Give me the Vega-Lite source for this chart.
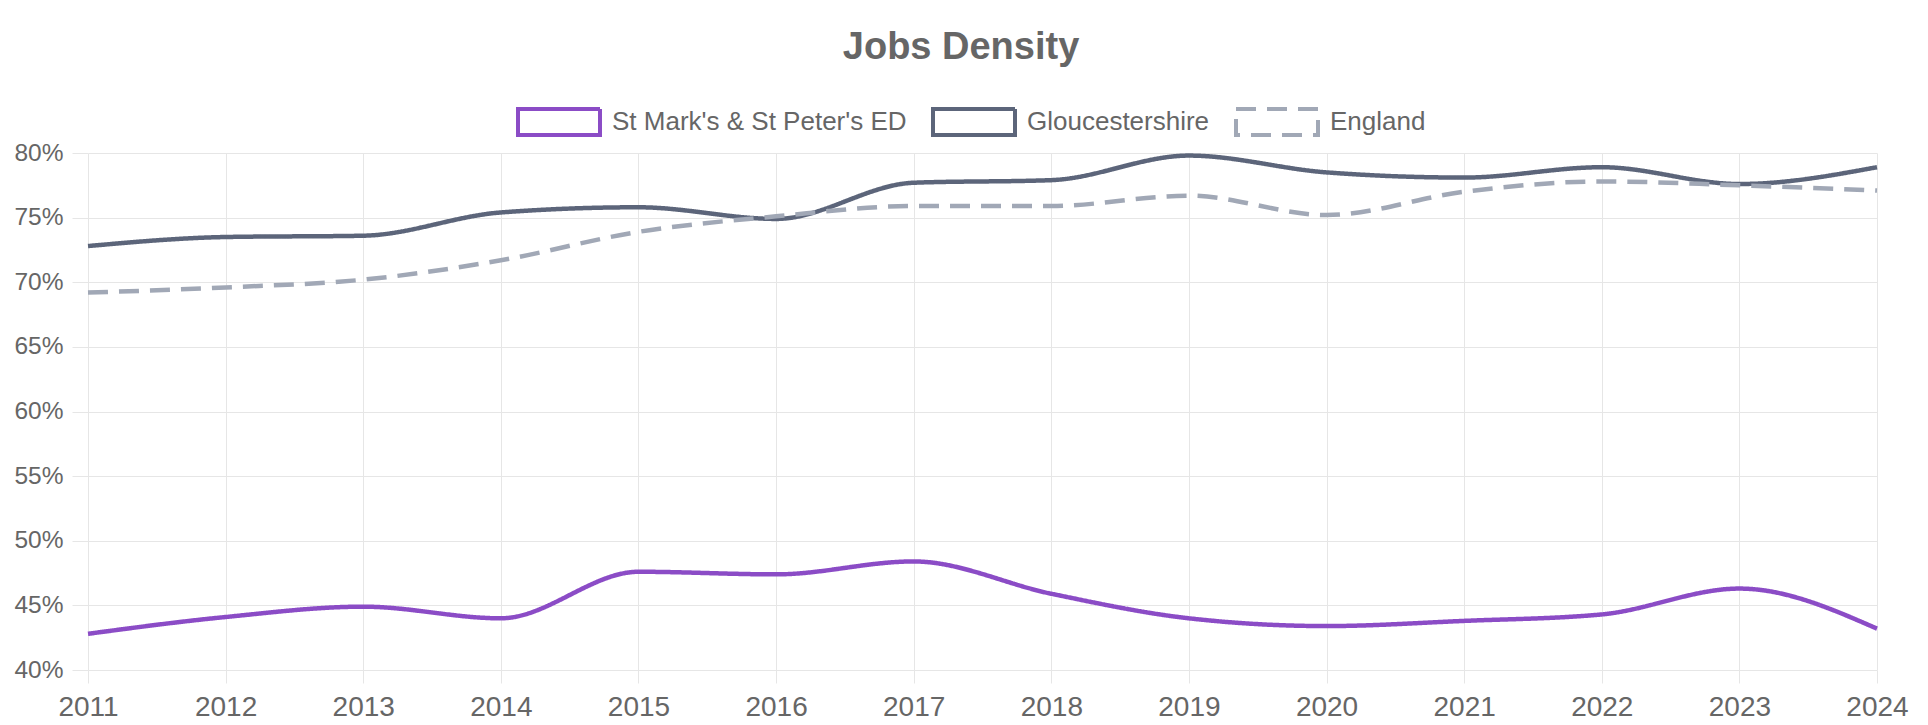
{
  "$schema": "https://vega.github.io/schema/vega-lite/v6.json",
  "width": 1789,
  "height": 517,
  "autosize": {"type": "none"},
  "padding": {"left": 88, "top": 153, "right": 51, "bottom": 55},
  "background": "white",
  "title": {"text": "Jobs Density", "anchor": "middle", "frame": "bounds", "fontSize": 38, "font": "Liberation Sans", "fontWeight": "bold", "color": "#666666", "offset": 12},
  "data": {"values": [
    {"year": 2011, "area": "St Mark's & St Peter's ED", "value": 42.8},
    {"year": 2012, "area": "St Mark's & St Peter's ED", "value": 44.1},
    {"year": 2013, "area": "St Mark's & St Peter's ED", "value": 44.9},
    {"year": 2014, "area": "St Mark's & St Peter's ED", "value": 44.0},
    {"year": 2015, "area": "St Mark's & St Peter's ED", "value": 47.6},
    {"year": 2016, "area": "St Mark's & St Peter's ED", "value": 47.4},
    {"year": 2017, "area": "St Mark's & St Peter's ED", "value": 48.4},
    {"year": 2018, "area": "St Mark's & St Peter's ED", "value": 45.9},
    {"year": 2019, "area": "St Mark's & St Peter's ED", "value": 44.0},
    {"year": 2020, "area": "St Mark's & St Peter's ED", "value": 43.4},
    {"year": 2021, "area": "St Mark's & St Peter's ED", "value": 43.8},
    {"year": 2022, "area": "St Mark's & St Peter's ED", "value": 44.3},
    {"year": 2023, "area": "St Mark's & St Peter's ED", "value": 46.3},
    {"year": 2024, "area": "St Mark's & St Peter's ED", "value": 43.2},
    {"year": 2011, "area": "Gloucestershire", "value": 72.8},
    {"year": 2012, "area": "Gloucestershire", "value": 73.5},
    {"year": 2013, "area": "Gloucestershire", "value": 73.6},
    {"year": 2014, "area": "Gloucestershire", "value": 75.4},
    {"year": 2015, "area": "Gloucestershire", "value": 75.8},
    {"year": 2016, "area": "Gloucestershire", "value": 74.9},
    {"year": 2017, "area": "Gloucestershire", "value": 77.7},
    {"year": 2018, "area": "Gloucestershire", "value": 77.9},
    {"year": 2019, "area": "Gloucestershire", "value": 79.8},
    {"year": 2020, "area": "Gloucestershire", "value": 78.5},
    {"year": 2021, "area": "Gloucestershire", "value": 78.1},
    {"year": 2022, "area": "Gloucestershire", "value": 78.9},
    {"year": 2023, "area": "Gloucestershire", "value": 77.6},
    {"year": 2024, "area": "Gloucestershire", "value": 78.9},
    {"year": 2011, "area": "England", "value": 69.2},
    {"year": 2012, "area": "England", "value": 69.6},
    {"year": 2013, "area": "England", "value": 70.2},
    {"year": 2014, "area": "England", "value": 71.7},
    {"year": 2015, "area": "England", "value": 73.9},
    {"year": 2016, "area": "England", "value": 75.1},
    {"year": 2017, "area": "England", "value": 75.9},
    {"year": 2018, "area": "England", "value": 75.9},
    {"year": 2019, "area": "England", "value": 76.7},
    {"year": 2020, "area": "England", "value": 75.2},
    {"year": 2021, "area": "England", "value": 77.0},
    {"year": 2022, "area": "England", "value": 77.8},
    {"year": 2023, "area": "England", "value": 77.5},
    {"year": 2024, "area": "England", "value": 77.1}
  ]},
  "mark": {"type": "line", "interpolate": "monotone", "strokeWidth": 4.5, "strokeCap": "butt"},
  "encoding": {
    "x": {
      "field": "year", "type": "quantitative",
      "scale": {"domain": [2011, 2024], "nice": false, "zero": false},
      "axis": {"values": [2011, 2012, 2013, 2014, 2015, 2016, 2017, 2018, 2019, 2020, 2021, 2022, 2023, 2024], "format": "d", "title": null, "labelFlush": false, "labelOverlap": false, "tickSize": 13, "labelPadding": 10, "labelFontSize": 28, "domain": false}
    },
    "y": {
      "field": "value", "type": "quantitative",
      "scale": {"domain": [40, 80], "nice": false, "zero": false},
      "axis": {"values": [40, 45, 50, 55, 60, 65, 70, 75, 80], "labelExpr": "datum.value + '%'", "title": null, "tickSize": 16, "labelPadding": 9, "labelFontSize": 24.5, "domain": false}
    },
    "color": {
      "field": "area", "type": "nominal",
      "scale": {"domain": ["St Mark's & St Peter's ED", "Gloucestershire", "England"], "range": ["#8b4cc6", "#5c657a", "#a1a8b6"]},
      "legend": {"title": null}
    },
    "strokeDash": {
      "field": "area", "type": "nominal",
      "scale": {"domain": ["St Mark's & St Peter's ED", "Gloucestershire", "England"], "range": [[1, 0], [1, 0], [20, 11]]},
      "legend": {"title": null}
    }
  },
  "config": {
    "view": {"stroke": null},
    "axis": {"gridColor": "#e6e6e6", "tickColor": "#e6e6e6", "gridWidth": 1, "tickWidth": 1, "labelColor": "#666666", "labelFont": "Liberation Sans", "grid": true},
    "legend": {
      "orient": "none",
      "legendX": 428,
      "legendY": -74,
      "direction": "horizontal",
      "symbolType": "M-1,-0.317H1V0.317H-1Z",
      "symbolSize": 6724,
      "symbolStrokeWidth": 4,
      "symbolFillColor": "white",
      "labelFontSize": 26,
      "labelFont": "Liberation Sans",
      "labelColor": "#666666",
      "labelOffset": 10,
      "columnPadding": 18,
      "labelLimit": 1000
    }
  }
}
